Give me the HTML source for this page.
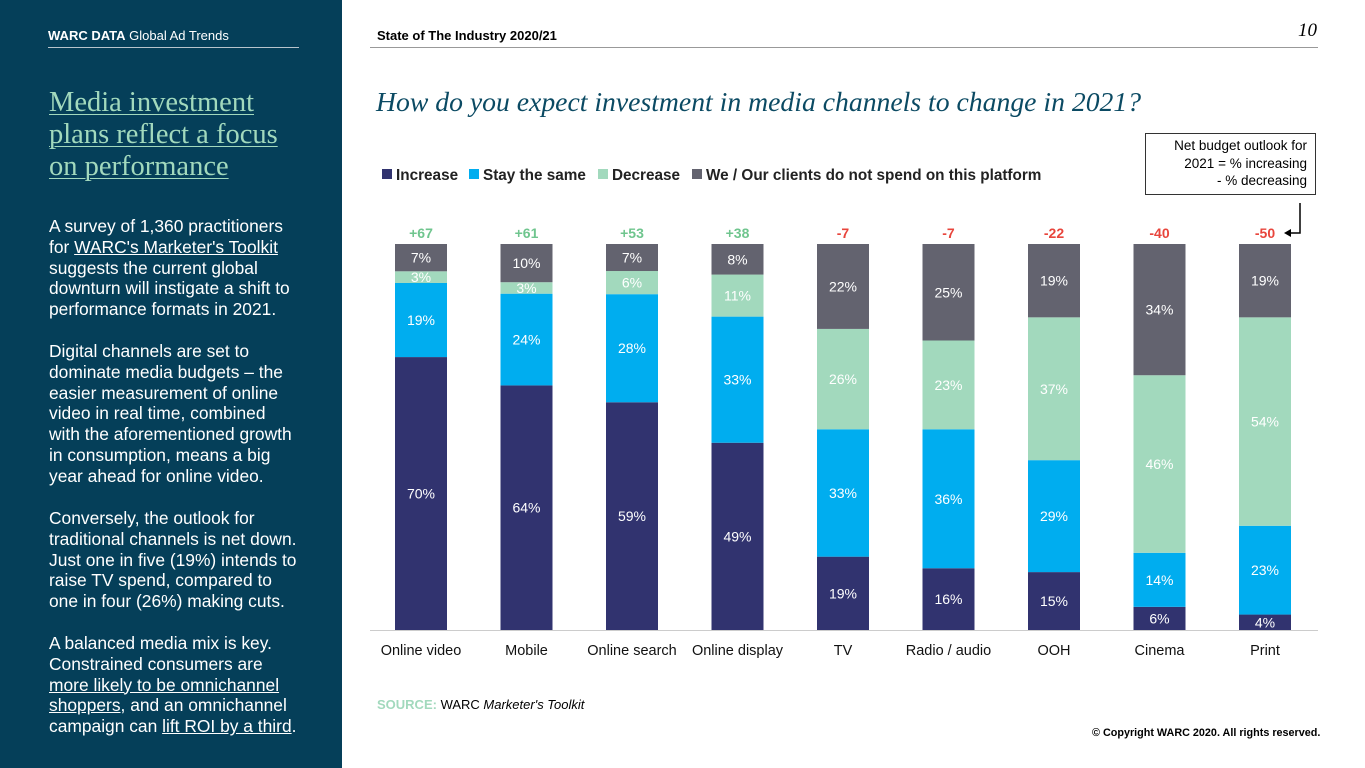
<!DOCTYPE html>
<html><head><meta charset="utf-8"><style>
body{margin:0;width:1365px;height:768px;position:relative;background:#fff;font-family:"Liberation Sans",sans-serif;overflow:hidden}
.abs{position:absolute}
#left{left:0;top:0;width:342px;height:768px;background:#053f59;color:#fff}
#left p{margin:0;font-size:17.4px;line-height:20.8px;position:absolute;left:49px;width:280px;white-space:nowrap}
#left u{text-decoration:underline}
</style></head><body>
<div id="left" class="abs">
  <div class="abs" style="left:48px;top:28px;font-size:13px"><b>WARC DATA</b> Global Ad Trends</div>
  <div class="abs" style="left:48px;top:47px;width:251px;height:1px;background:#b8c4cc"></div>
  <div class="abs" style="left:49px;top:87px;font-family:'Liberation Serif',serif;font-size:28.5px;line-height:32px;color:#a2d9bd;text-decoration:underline;text-decoration-thickness:1px;text-underline-offset:3px;white-space:nowrap">Media investment<br>plans reflect a focus<br>on performance</div>
  <p style="top:216px">A survey of 1,360 practitioners<br>for <u>WARC's Marketer's Toolkit</u><br>suggests the current global<br>downturn will instigate a shift to<br>performance formats in 2021.</p>
  <p style="top:341px">Digital channels are set to<br>dominate media budgets – the<br>easier measurement of online<br>video in real time, combined<br>with the aforementioned growth<br>in consumption, means a big<br>year ahead for online video.</p>
  <p style="top:508px">Conversely, the outlook for<br>traditional channels is net down.<br>Just one in five (19%) intends to<br>raise TV spend, compared to<br>one in four (26%) making cuts.</p>
  <p style="top:633px">A balanced media mix is key.<br>Constrained consumers are<br><u>more likely to be omnichannel</u><br><u>shoppers</u>, and an omnichannel<br>campaign can <u>lift ROI by a third</u>.</p>
</div>
<div class="abs" style="left:377px;top:28px;font-size:13px;font-weight:bold">State of The Industry 2020/21</div>
<div class="abs" style="left:370px;top:47px;width:948px;height:1px;background:#999"></div>
<div class="abs" style="left:1298px;top:20px;font-family:'Liberation Serif',serif;font-style:italic;font-size:19px">10</div>
<div class="abs" style="left:376px;top:86px;font-family:'Liberation Serif',serif;font-style:italic;font-size:27.7px;color:#0b4a63">How do you expect investment in media channels to change in 2021?</div>
<div class="abs" style="left:1145px;top:133px;width:171px;height:62px;border:1px solid #333;box-sizing:border-box;font-size:13.5px;line-height:17.5px;text-align:right;padding:3px 8px 0 0">Net budget outlook for<br>2021 = % increasing<br>- % decreasing</div>
<svg class="abs" style="left:1280px;top:195px" width="25" height="45"><path d="M20 8 V38 H10" fill="none" stroke="#000" stroke-width="1.5"/><path d="M4 38 L11 34 L11 42 Z" fill="#000"/></svg>
<div class="abs" style="left:1092px;top:727px;font-size:10.8px;font-weight:bold">© Copyright WARC 2020. All rights reserved.</div>
<div class="abs" style="left:377px;top:697px;font-size:13px"><b style="color:#a2d9bd">SOURCE:</b> WARC <i>Marketer's Toolkit</i></div>
<svg id="chart" class="abs" style="left:0;top:0" width="1365" height="768"></svg>
<script>
const categories=["Online video","Mobile","Online search","Online display","TV","Radio / audio","OOH","Cinema","Print"];
const increase=[70,64,59,49,19,16,15,6,4];
const stay=[19,24,28,33,33,36,29,14,23];
const decrease=[3,3,6,11,26,23,37,46,54];
const noSpend=[7,10,7,8,22,25,19,34,19];
const netLabels=["+67","+61","+53","+38","-7","-7","-22","-40","-50"];
const seriesNames=["Increase","Stay the same","Decrease","We / Our clients do not spend on this platform"];
const colors=["#31336f","#00adef","#a2d9bd","#63636f"];
const NS="http://www.w3.org/2000/svg";
const svg=document.getElementById('chart');
const x0=421,step=105.5,bw=52,baseY=630,topY=244;
const xPos=i=>x0+i*step;
function el(t,a){const e=document.createElementNS(NS,t);for(const k in a)e.setAttribute(k,a[k]);svg.appendChild(e);return e;}
const lx=[382,469,598,692];
seriesNames.forEach((n,i)=>{
  const r=el('rect',{x:lx[i],y:169,width:10,height:10,fill:colors[i]});
  
  
  const t=el('text',{x:lx[i]+14,y:180,'font-size':15.3,'font-weight':'bold',fill:'#222'});
  t.textContent=n;
  
  
});
const series=[increase,stay,decrease,noSpend];
categories.forEach((c,i)=>{
  const total=series.reduce((s,a)=>s+a[i],0);
  const k=(baseY-topY)/total;
  let y=baseY;
  series.forEach((arr,j)=>{
    const h=arr[i]*k;
    const r=el('rect',{x:xPos(i)-bw/2,y:y-h,width:bw,height:h,fill:colors[j]});
    
    
    const t=el('text',{x:xPos(i),y:y-h/2+5,'font-size':14,fill:'#fff','text-anchor':'middle'});
    t.textContent=arr[i]+'%';
    
    
    y-=h;
  });
  const n=el('text',{x:xPos(i),y:238,'font-size':14,'font-weight':'bold','text-anchor':'middle',fill:netLabels[i][0]=='+'?'#6fc58e':'#e8453c'});
  n.textContent=netLabels[i];
  
  
  const cl=el('text',{x:xPos(i),y:655,'font-size':14.5,'text-anchor':'middle',fill:'#111'});
  cl.textContent=c;
  
  
});
const ax=el('line',{x1:370,x2:1318,y1:baseY+0.5,y2:baseY+0.5,stroke:'#ccc'});


</script>
</body></html>
